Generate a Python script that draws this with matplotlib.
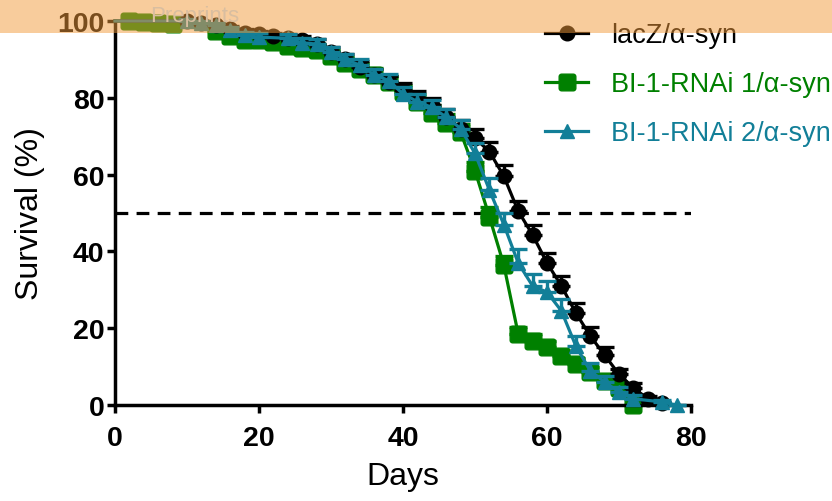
import numpy as np
import matplotlib
matplotlib.use("Agg")
import matplotlib.pyplot as plt
from matplotlib.patches import Rectangle
from matplotlib.path import Path

plt.rcParams['font.family'] = ['Liberation Sans', 'DejaVu Sans']

# survival data (days, percent surviving, upper SEM)
lacz_days = [0, 10, 12, 14, 16, 18, 20, 22, 24, 26, 28, 30, 32, 34, 36, 38, 40,
             42, 44, 46, 48, 50, 52, 54, 56, 58, 60, 62, 64, 66, 68, 70, 72, 74, 76]
lacz_surv = [100, 100, 99.5, 99, 98, 97, 96.5, 96, 95.5, 95, 94, 92, 90, 88, 86, 84, 82,
             80, 78, 75, 72, 69.5, 66, 59.6, 50.5, 44.3, 37, 31, 24, 18, 13, 8, 4.5, 1.6, 0.5]
lacz_err = [0, 0.4, 0.5, 0.6, 0.8, 0.9, 1, 1, 1.1, 1.1, 1.2, 1.3, 1.4, 1.5, 1.6, 1.7, 1.8,
            1.9, 2, 2.1, 2.2, 2.3, 2.4, 2.9, 2.6, 2.6, 2.6, 2.6, 2.6, 2.2, 2.2, 1.5, 1.1, 0.7, 0.4]

rnai1_days = [0, 2, 4, 6, 8, 14, 16, 18, 20, 22, 24, 26, 28, 30, 32, 34, 36, 38, 40,
              42, 44, 46, 48, 50, 52, 54, 56, 58, 60, 62, 64, 66, 68, 70, 72]
rnai1_surv = [100, 100, 99.7, 99.4, 99.1, 97.5, 96, 95, 95, 94.5, 93.5, 93, 92.5, 91, 89, 87.5, 86, 84, 81.5,
              79, 76, 73.5, 71, 61, 49, 36.5, 18.5, 16.7, 15, 12.8, 10.7, 8.6, 6.3, 4.5, 0]
rnai1_err = [0, 0.2, 0.3, 0.4, 0.5, 0.8, 0.9, 1, 1, 1.1, 1.2, 1.2, 1.3, 1.4, 1.5, 1.6, 1.7, 1.8, 1.9,
             2, 2.1, 2.2, 2.3, 2.4, 2.5, 2.4, 1.9, 1.8, 1.7, 1.6, 1.5, 1.3, 1.1, 0.9, 0]

rnai2_days = [0, 10, 12, 14, 16, 18, 20, 24, 26, 28, 30, 32, 34, 36, 38, 40,
              42, 44, 46, 48, 50, 52, 54, 56, 58, 60, 62, 64, 66, 68, 70, 72, 76, 78]
rnai2_surv = [100, 100, 99.5, 99, 97.6, 96.3, 95.8, 95.5, 94.3, 94, 92, 90, 88.5, 86, 84.5, 81,
              79, 77.5, 75, 72, 65.5, 56, 47, 37, 31, 29.4, 24.5, 15.4, 8.9, 6, 3.4, 1.6, 0.8, 0]
rnai2_err = [0, 0.4, 0.5, 0.6, 0.8, 0.9, 1, 1.1, 1.2, 1.2, 1.3, 1.4, 1.5, 1.6, 1.7, 1.8,
             1.9, 2, 2.1, 2.3, 2.6, 3, 3, 3.5, 3, 3, 3, 2.6, 2, 1.6, 1.2, 0.9, 0.6, 0]

labels = ['lacZ/\u03b1-syn', 'BI-1-RNAi 1/\u03b1-syn', 'BI-1-RNAi 2/\u03b1-syn']
colors = ['#000000', '#008000', '#127f98']


def rounded_square(r=0.3, n=6):
    """square marker path with rounded corners"""
    verts = []
    corners = [(1, 1, 0), (-1, 1, 90), (-1, -1, 180), (1, -1, 270)]
    for cx, cy, a0 in corners:
        for t in np.linspace(a0, a0 + 90, n):
            verts.append((cx * (1 - r) + r * np.cos(np.deg2rad(t)),
                          cy * (1 - r) + r * np.sin(np.deg2rad(t))))
    verts.append(verts[0])
    return Path(verts, closed=True)


fig = plt.figure(figsize=(8.32, 5.02), dpi=100)
ax = fig.add_axes([115 / 832, 1 - 406 / 502, (691 - 115) / 832, (406 - 22) / 502])

series = [
    (lacz_days, lacz_surv, lacz_err, 'o', 10.5, 3),
    (rnai1_days, rnai1_surv, rnai1_err, rounded_square(), 12, 2),
    (rnai2_days, rnai2_surv, rnai2_err, '^', 10.5, 4),
]
handles = []
for (d, s, e, m, ms, z), lab, c in zip(series, labels, colors):
    d = np.array(d); s = np.array(s); e = np.array(e)
    ax.errorbar(d[1:], s[1:], yerr=[np.zeros(len(e) - 1), e[1:]], fmt='none',
                ecolor=c, elinewidth=2.4, capsize=6.5, capthick=2.4, zorder=z, clip_on=False)
    ln, = ax.plot(d, s, color=c, lw=2.3, marker=m, ms=ms, markevery=slice(1, None),
                  label=lab, zorder=z, clip_on=False)
    handles.append(ln)

ax.plot([0, 80], [50, 50], ls=(0, (4, 2.6)), color='black', lw=2.3, zorder=1)

ax.set_xlim(0, 80)
ax.set_ylim(0, 100)
ax.set_xticks([0, 20, 40, 60, 80])
ax.set_yticks([0, 20, 40, 60, 80, 100])
for sp in ['top', 'right']:
    ax.spines[sp].set_visible(False)
for sp in ['left', 'bottom']:
    ax.spines[sp].set_linewidth(2.5)
ax.tick_params(width=2.5, length=5.5, labelsize=20.5, pad=2)
ax.tick_params(axis='x', pad=9)
for t in ax.get_xticklabels() + ax.get_yticklabels():
    t.set_fontweight('bold')
ax.set_xlabel('Days', fontsize=23, labelpad=7)
ax.set_ylabel('Survival (%)', fontsize=23, labelpad=9)

leg = fig.legend(handles=handles, loc='upper left', bbox_to_anchor=(545 / 832, 1 - 23 / 502),
                 frameon=False, fontsize=19.5, handlelength=1.6, handletextpad=0.85,
                 labelspacing=0.85, borderpad=0, borderaxespad=0, numpoints=1)
for txt, c in zip(leg.get_texts(), colors):
    txt.set_color(c)

# preprint watermark band across the top
fig.patches.append(Rectangle((0, 1 - 34 / 502), 1, 34 / 502, transform=fig.transFigure,
                             facecolor='#f39a3a', edgecolor='none', alpha=0.5, zorder=100))
fig.text(150 / 832, 1 - 22 / 502, 'Preprints', fontsize=16, color='#d9bea0',
         va='baseline', ha='left', zorder=101)

fig.savefig('out.png', dpi=100)
